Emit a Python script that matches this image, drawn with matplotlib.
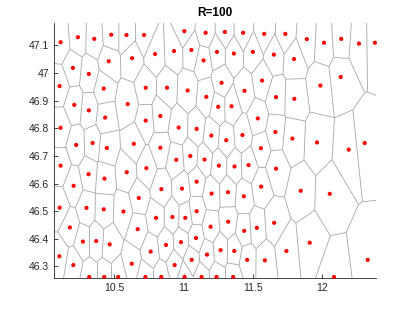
import numpy as np
import matplotlib
matplotlib.use('Agg')
import matplotlib.pyplot as plt
import matplotlib.tri as mtri
from matplotlib.ticker import FormatStrFormatter

# points (lon, lat)
lon = [10.111, 10.236, 10.354, 10.477, 10.587, 10.714, 11.005, 11.159, 11.298, 11.430,
       11.582, 11.735, 11.890, 12.014, 12.139, 12.267, 12.382,
       10.794, 10.628, 10.459, 10.931, 11.056, 11.144, 11.241, 11.363, 11.500, 11.652, 11.798,
       10.200, 10.315,
       10.104, 10.423, 10.726, 10.880, 11.029, 11.274, 11.567, 11.440, 12.135, 11.988,
       10.596, 10.210, 10.315, 11.164, 11.250, 11.346, 11.668, 11.800,
       10.433, 10.726, 10.832, 10.111, 11.536, 10.964, 11.094,
       10.224, 10.342, 10.445, 10.640, 10.832, 11.200, 11.308, 11.425, 11.558, 11.663,
       11.786, 11.964, 12.193, 12.308,
       10.111, 10.313, 10.428, 10.589, 10.731, 10.947, 11.048, 11.151, 11.255, 11.368,
       11.469, 11.668,
       10.205, 10.676, 10.839, 10.988, 11.094, 11.202, 11.320, 11.435, 11.560, 11.846, 12.056,
       10.104, 10.298, 10.423, 10.565, 10.801, 10.178, 10.668, 10.919, 11.012, 11.094,
       11.195, 11.322, 11.438, 11.529, 11.654,
       10.272, 10.368, 10.466, 10.762, 10.102, 10.203, 10.625, 10.873, 10.981, 11.089,
       11.169, 11.267, 11.366, 11.459, 11.587, 10.935, 11.058, 11.911, 11.743, 12.330,
       10.318, 10.426, 10.527, 10.724, 10.839, 11.007, 11.130, 11.238, 11.358, 12.087]
lat = [47.112, 47.130, 47.124, 47.139, 47.138, 47.138, 47.152, 47.146, 47.149, 47.146,
       47.142, 47.142, 47.123, 47.110, 47.124, 47.107, 47.110,
       47.069, 47.054, 47.043, 47.080, 47.084, 47.046, 47.077, 47.071, 47.077, 47.067, 47.051,
       47.019, 46.997,
       46.953, 46.944, 46.947, 46.947, 46.937, 46.965, 46.973, 46.936, 46.986, 46.955,
       46.888, 46.885, 46.865, 46.914, 46.878, 46.880, 46.913, 46.907,
       46.839, 46.828, 46.845, 46.802, 46.836, 46.803, 46.798,
       46.740, 46.747, 46.729, 46.744, 46.730, 46.774, 46.757, 46.776, 46.728, 46.787,
       46.763, 46.749, 46.723, 46.747,
       46.665, 46.634, 46.618, 46.641, 46.656, 46.686, 46.700, 46.687, 46.665, 46.662,
       46.667, 46.654,
       46.592, 46.548, 46.580, 46.582, 46.607, 46.564, 46.569, 46.554, 46.589, 46.574, 46.563,
       46.513, 46.512, 46.507, 46.499, 46.476, 46.441, 46.435, 46.479, 46.476, 46.500,
       46.444, 46.462, 46.429, 46.440, 46.458,
       46.390, 46.392, 46.380, 46.354, 46.337, 46.305, 46.310, 46.378, 46.388, 46.403,
       46.343, 46.359, 46.356, 46.324, 46.322, 46.305, 46.324, 46.386, 46.356, 46.324,
       46.262, 46.262, 46.262, 46.262, 46.262, 46.262, 46.262, 46.262, 46.262, 46.262]
title = 'R=100'

x = np.array(lon)
y = np.array(lat)

# voronoi edges from the delaunay triangulation
tri = mtri.Triangulation(x, y)
T = tri.triangles
ax_, ay_ = x[T[:, 0]], y[T[:, 0]]
bx, by = x[T[:, 1]], y[T[:, 1]]
cx, cy = x[T[:, 2]], y[T[:, 2]]
d = 2 * (ax_ * (by - cy) + bx * (cy - ay_) + cx * (ay_ - by))
ux = ((ax_**2 + ay_**2) * (by - cy) + (bx**2 + by**2) * (cy - ay_) + (cx**2 + cy**2) * (ay_ - by)) / d
uy = ((ax_**2 + ay_**2) * (cx - bx) + (bx**2 + by**2) * (ax_ - cx) + (cx**2 + cy**2) * (bx - ax_)) / d

center = np.array([x.mean(), y.mean()])
segs = []
for t in range(len(T)):
    for j in range(3):
        nb = tri.neighbors[t, j]
        if nb > t:
            segs.append(((ux[t], uy[t]), (ux[nb], uy[nb])))
        elif nb == -1:
            p1 = np.array([x[T[t, j]], y[T[t, j]]])
            p2 = np.array([x[T[t, (j + 1) % 3]], y[T[t, (j + 1) % 3]]])
            tg = p2 - p1
            tg = tg / np.linalg.norm(tg)
            n = np.array([-tg[1], tg[0]])
            mid = (p1 + p2) / 2
            direc = np.sign(np.dot(mid - center, n)) * n
            far = np.array([ux[t], uy[t]]) + direc * 5
            segs.append(((ux[t], uy[t]), (far[0], far[1])))

plt.rcParams['font.family'] = ['Liberation Sans', 'DejaVu Sans']
fig = plt.figure(figsize=(4.15, 3.12), dpi=100)
ax = fig.add_axes([0.13, 0.11, 0.775, 0.815])

from matplotlib.collections import LineCollection
ax.add_collection(LineCollection(segs, colors='#a6a6a6', linewidths=0.6))
ax.scatter(x, y, s=9, c='#ff0000', edgecolors='none', zorder=3, clip_on=False)

ax.set_xlim(10.063, 12.387)
ax.set_ylim(46.2594, 47.18)
ax.set_xticks([10.5, 11, 11.5, 12])
ax.set_yticks([46.3, 46.4, 46.5, 46.6, 46.7, 46.8, 46.9, 47, 47.1])
ax.xaxis.set_major_formatter(FormatStrFormatter('%g'))
ax.yaxis.set_major_formatter(FormatStrFormatter('%g'))
ax.tick_params(direction='in', length=3, width=0.6, labelsize=7.5, colors='#262626')
for s in ['top', 'right']:
    ax.spines[s].set_visible(False)
for s in ['left', 'bottom']:
    ax.spines[s].set_color('#262626')
    ax.spines[s].set_linewidth(0.6)
ax.set_title(title, fontsize=8.5, fontweight='bold', color='#000000', pad=5)

fig.savefig('out.png', dpi=100)
